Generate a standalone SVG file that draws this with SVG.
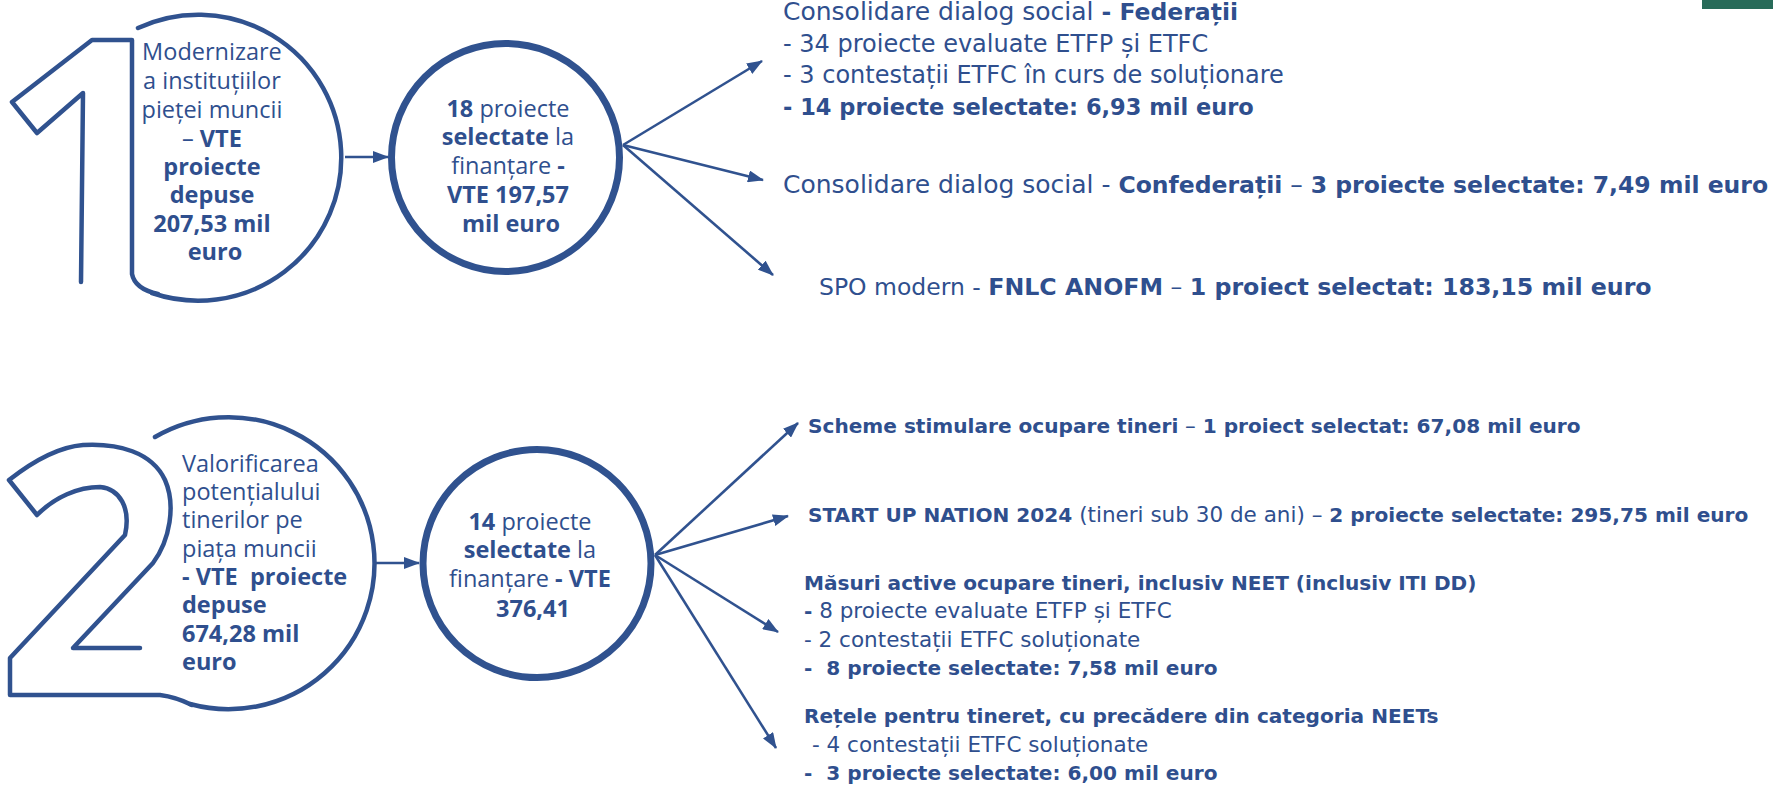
<svg xmlns="http://www.w3.org/2000/svg" width="1773" height="785" viewBox="0 0 1773 785">
<style>
  .num { fill: none; stroke: #30528f; stroke-width: 4.5; stroke-linejoin: round; stroke-linecap: round; }
  .ring { fill: none; stroke: #30528f; stroke-width: 4.5; stroke-linecap: round; }
  .small { fill: #ffffff; stroke: #30528f; stroke-width: 7; }
  .conn { fill: none; stroke: #30528f; stroke-width: 2.6; }
  .ct { font-family: "Open Sans", "Noto Sans", sans-serif; font-size: 23.5px; fill: #2f4f8e; }
  .rt { font-family: "DejaVu Sans", "Liberation Sans", sans-serif; fill: #2f4f8e; }
  .s25 { font-size: 25px; }
  .s24 { font-size: 24px; }
  .s235 { font-size: 23.5px; }
  .s237 { font-size: 23.7px; }
  .s225 { font-size: 22.5px; }
  .s215 { font-size: 21.5px; }
  .s201 { font-size: 20.1px; }
  .b { font-weight: bold; }
</style>
<defs>
  <marker id="ah" viewBox="0 0 16 12" refX="15" refY="6" markerWidth="16" markerHeight="12" markerUnits="userSpaceOnUse" orient="auto">
    <path d="M0,0 L16,6 L0,12 z" fill="#30528f"/>
  </marker>
</defs>

<rect x="1702" y="0" width="71" height="9" fill="#286b59"/>

<g id="node-1-big">
  <path class="num" d="M81,282 L83,93 L37,133 L12,102 L92,40 L132,40 L132,274 Q135,289 158,294"/>
  <path class="ring" d="M138,28 A143,143 0 1 1 152,293"/>
  <text class="ct" text-anchor="middle">
    <tspan x="215" y="60">Modernizare</tspan>
    <tspan x="215" y="89">a instituțiilor</tspan>
    <tspan x="215" y="118">pieței muncii</tspan>
    <tspan x="215" y="147">– <tspan class="b">VTE</tspan></tspan>
    <tspan x="215" y="175" class="b">proiecte</tspan>
    <tspan x="215" y="203" class="b">depuse</tspan>
    <tspan x="215" y="232" class="b">207,53 mil</tspan>
    <tspan x="215" y="260" class="b">euro</tspan>
  </text>
</g>

<g id="node-1-selected">
  <circle class="small" cx="505.5" cy="157.5" r="114"/>
  <text class="ct" text-anchor="middle">
    <tspan x="511" y="117"><tspan class="b">18</tspan> proiecte</tspan>
    <tspan x="511" y="145"><tspan class="b">selectate</tspan> la</tspan>
    <tspan x="511" y="174">finanțare <tspan class="b">-</tspan></tspan>
    <tspan x="511" y="203" class="b">VTE 197,57</tspan>
    <tspan x="511" y="232" class="b">mil euro</tspan>
  </text>
</g>

<g id="node-1a">
  <text class="rt s25" x="783" y="20">Consolidare dialog social <tspan class="b s235">- Federații</tspan></text>
  <text class="rt s24" x="783" y="52">- 34 proiecte evaluate ETFP și ETFC</text>
  <text class="rt s24" x="783" y="83">- 3 contestații ETFC în curs de soluționare</text>
  <text class="rt b s225" x="783" y="115">- 14 proiecte selectate: 6,93 mil euro</text>
</g>
<g id="node-1b">
  <text class="rt s25" x="783" y="193">Consolidare dialog social - <tspan class="b s235">Confederații</tspan> – <tspan class="b s235">3 proiecte selectate: 7,49 mil euro</tspan></text>
</g>
<g id="node-1c">
  <text class="rt s235" x="819" y="295">SPO modern - <tspan class="b s237">FNLC ANOFM</tspan> – <tspan class="b s237">1 proiect selectat: 183,15 mil euro</tspan></text>
</g>

<g id="node-2-big">
  <path class="num" d="M140,648 L73,648 L153,563 C170,540 176,505 165,480 C152,452 118,443 83,445 C58,447 32,462 9,480 L37,515 C55,497 78,487 100,487 C120,489 131,508 125,535 L10,658 L10,695 L160,695 Q176,697 192,705"/>
  <path class="ring" d="M155,437 A146,146 0 1 1 190,704"/>
  <text class="ct" xml:space="preserve"><tspan x="182" y="472">Valorificarea</tspan><tspan x="182" y="500">potențialului</tspan><tspan x="182" y="528">tinerilor pe</tspan><tspan x="182" y="557">piața muncii</tspan><tspan x="182" y="585" class="b">- VTE  proiecte</tspan><tspan x="182" y="613" class="b">depuse</tspan><tspan x="182" y="642" class="b">674,28 mil</tspan><tspan x="182" y="670" class="b">euro</tspan></text>
</g>

<g id="node-2-selected">
  <circle class="small" cx="537" cy="563.5" r="114"/>
  <text class="ct" text-anchor="middle">
    <tspan x="533" y="530"><tspan class="b">14</tspan> proiecte</tspan>
    <tspan x="533" y="558"><tspan class="b">selectate</tspan> la</tspan>
    <tspan x="533" y="587">finanțare <tspan class="b">- VTE</tspan></tspan>
    <tspan x="533" y="617" class="b">376,41</tspan>
  </text>
</g>

<g id="node-2a">
  <text class="rt s215" x="808" y="433"><tspan class="b s201">Scheme stimulare ocupare tineri</tspan> – <tspan class="b s201">1 proiect selectat: 67,08 mil euro</tspan></text>
</g>
<g id="node-2b">
  <text class="rt s215" x="808" y="522"><tspan class="b s201">START UP NATION 2024</tspan> (tineri sub 30 de ani) – <tspan class="b s201">2 proiecte selectate: 295,75 mil euro</tspan></text>
</g>
<g id="node-2c">
  <text class="rt b s201" x="804" y="590">Măsuri active ocupare tineri, inclusiv NEET (inclusiv ITI DD)</text>
  <text class="rt s215" x="804" y="618"><tspan class="b s201">-</tspan> 8 proiecte evaluate ETFP și ETFC</text>
  <text class="rt s215" x="804" y="647">- 2 contestații ETFC soluționate</text>
  <text class="rt b s201" x="804" y="675" xml:space="preserve">-  8 proiecte selectate: 7,58 mil euro</text>
</g>
<g id="node-2d">
  <text class="rt b s201" x="804" y="723">Rețele pentru tineret, cu precădere din categoria NEETs</text>
  <text class="rt s215" x="812" y="752">- 4 contestații ETFC soluționate</text>
  <text class="rt b s201" x="804" y="780" xml:space="preserve">-  3 proiecte selectate: 6,00 mil euro</text>
</g>

<g id="connectors">
  <line class="conn" x1="345" y1="157" x2="388" y2="157" marker-end="url(#ah)"/>
  <line class="conn" x1="623" y1="145" x2="762" y2="61" marker-end="url(#ah)"/>
  <line class="conn" x1="623" y1="145" x2="763" y2="180" marker-end="url(#ah)"/>
  <line class="conn" x1="623" y1="145" x2="773" y2="275" marker-end="url(#ah)"/>
  <line class="conn" x1="373" y1="563" x2="419" y2="563" marker-end="url(#ah)"/>
  <line class="conn" x1="655" y1="555" x2="798" y2="423" marker-end="url(#ah)"/>
  <line class="conn" x1="655" y1="555" x2="788" y2="516" marker-end="url(#ah)"/>
  <line class="conn" x1="655" y1="555" x2="778" y2="632" marker-end="url(#ah)"/>
  <line class="conn" x1="655" y1="555" x2="776" y2="748" marker-end="url(#ah)"/>
</g>
</svg>
